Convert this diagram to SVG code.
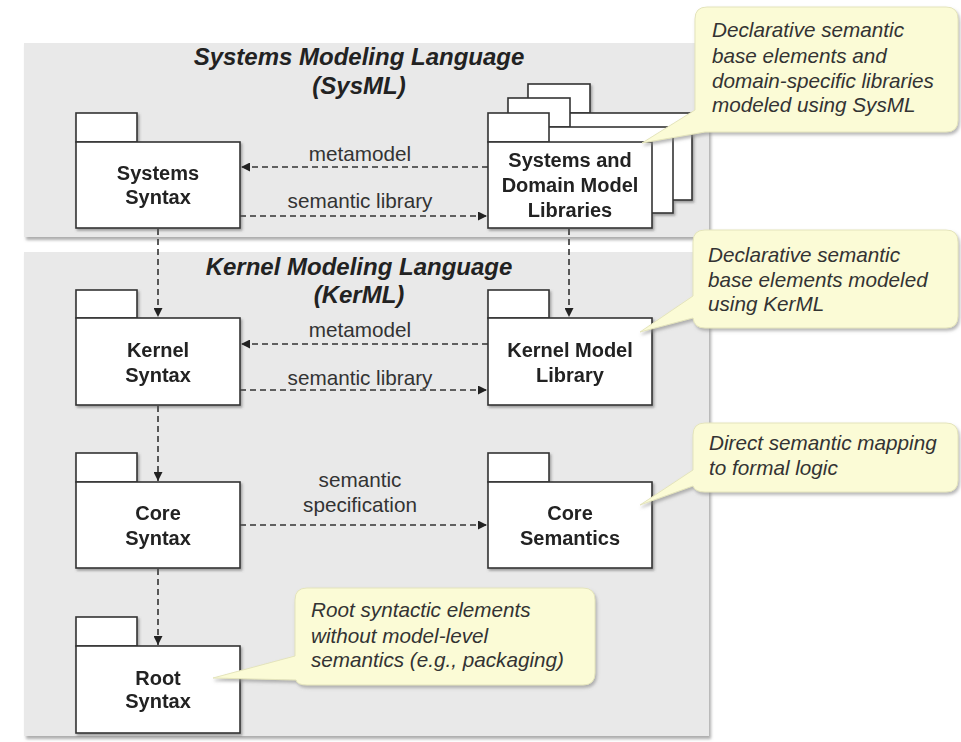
<svg xmlns="http://www.w3.org/2000/svg" width="961" height="742" viewBox="0 0 961 742">
<defs>
<filter id="psh" x="-5%" y="-5%" width="110%" height="110%"><feDropShadow dx="2" dy="3" stdDeviation="1.5" flood-color="#777" flood-opacity="0.6"/></filter>
<filter id="nsh" x="-5%" y="-5%" width="115%" height="115%"><feDropShadow dx="1.5" dy="2" stdDeviation="1" flood-color="#555" flood-opacity="0.5"/></filter>
<filter id="csh" x="-5%" y="-5%" width="115%" height="120%"><feDropShadow dx="1.5" dy="2.5" stdDeviation="1.5" flood-color="#888" flood-opacity="0.6"/></filter>
<marker id="ah" viewBox="0 0 10 10" refX="10" refY="5" markerWidth="9" markerHeight="9" markerUnits="userSpaceOnUse" orient="auto"><path d="M0,0 L10,5 L0,10 Z" fill="#222"/></marker>
</defs>
<style>
.panel{fill:#e9e9e9;filter:url(#psh)}
.box{fill:#fff;stroke:#333;stroke-width:1.6}
.title{font-family:"Liberation Sans",Arial,sans-serif;font-size:24px;font-weight:bold;font-style:italic;fill:#222;text-anchor:middle}
.nt{font-family:"Liberation Sans",Arial,sans-serif;font-size:20px;font-weight:bold;fill:#222;text-anchor:middle}
.lbl{font-family:"Liberation Sans",Arial,sans-serif;font-size:20.7px;fill:#333;text-anchor:middle}
.conn{fill:none;stroke:#333;stroke-width:1.6;stroke-dasharray:6 4;marker-end:url(#ah)}
.call{fill:#fbfbd6;stroke:#e4e4bc;stroke-width:1;filter:url(#csh)}
.ct{font-family:"Liberation Sans",Arial,sans-serif;font-size:20.7px;font-style:italic;fill:#333}
</style>
<rect width="961" height="742" fill="#fff"/>
<g id="sysml-panel">
<rect class="panel" x="24" y="43" width="685" height="194"/>
<text class="title" x="359" y="65">Systems Modeling Language</text>
<text class="title" x="359" y="94">(SysML)</text>
</g>
<g id="kerml-panel">
<rect class="panel" x="24" y="252" width="685" height="484"/>
<text class="title" x="359" y="275">Kernel Modeling Language</text>
<text class="title" x="359" y="303">(KerML)</text>
</g>
<g id="connectors">
<line class="conn" x1="488" y1="167" x2="241" y2="167"/>
<line class="conn" x1="240" y1="216" x2="487" y2="216"/>
<line class="conn" x1="158" y1="229" x2="158" y2="317"/>
<line class="conn" x1="569" y1="229" x2="569" y2="317"/>
<line class="conn" x1="488" y1="344" x2="241" y2="344"/>
<line class="conn" x1="240" y1="390" x2="487" y2="390"/>
<line class="conn" x1="158" y1="406" x2="158" y2="481"/>
<line class="conn" x1="240" y1="525" x2="487" y2="525"/>
<line class="conn" x1="158" y1="569" x2="158" y2="645"/>
<text class="lbl" x="360" y="161">metamodel</text>
<text class="lbl" x="360" y="208">semantic library</text>
<text class="lbl" x="360" y="337">metamodel</text>
<text class="lbl" x="360" y="385">semantic library</text>
<text class="lbl" x="360" y="487">semantic</text>
<text class="lbl" x="360" y="512">specification</text>
</g>
<g id="systems-syntax" filter="url(#nsh)">
<rect class="box" x="76" y="113" width="61" height="29"/>
<rect class="box" x="76" y="142" width="164" height="86"/>
<text class="nt" x="158" y="180">Systems</text>
<text class="nt" x="158" y="204">Syntax</text>
</g>
<g id="systems-domain-libraries" filter="url(#nsh)">
<rect class="box" x="528" y="84" width="62" height="29"/>
<rect class="box" x="528" y="113" width="164" height="87"/>
<rect class="box" x="508" y="98" width="62" height="29"/>
<rect class="box" x="508" y="127" width="165" height="86"/>
<rect class="box" x="488" y="113" width="61" height="29"/>
<rect class="box" x="488" y="142" width="164" height="86"/>
<text class="nt" x="570" y="167">Systems and</text>
<text class="nt" x="570" y="192">Domain Model</text>
<text class="nt" x="570" y="217">Libraries</text>
</g>
<g id="kernel-syntax" filter="url(#nsh)">
<rect class="box" x="76" y="290" width="61" height="28"/>
<rect class="box" x="76" y="318" width="164" height="87"/>
<text class="nt" x="158" y="357">Kernel</text>
<text class="nt" x="158" y="382">Syntax</text>
</g>
<g id="kernel-model-library" filter="url(#nsh)">
<rect class="box" x="488" y="290" width="61" height="28"/>
<rect class="box" x="488" y="318" width="164" height="87"/>
<text class="nt" x="570" y="357">Kernel Model</text>
<text class="nt" x="570" y="382">Library</text>
</g>
<g id="core-syntax" filter="url(#nsh)">
<rect class="box" x="76" y="453" width="61" height="29"/>
<rect class="box" x="76" y="482" width="164" height="86"/>
<text class="nt" x="158" y="520">Core</text>
<text class="nt" x="158" y="545">Syntax</text>
</g>
<g id="core-semantics" filter="url(#nsh)">
<rect class="box" x="488" y="453" width="61" height="29"/>
<rect class="box" x="488" y="482" width="164" height="86"/>
<text class="nt" x="570" y="520">Core</text>
<text class="nt" x="570" y="545">Semantics</text>
</g>
<g id="root-syntax" filter="url(#nsh)">
<rect class="box" x="76" y="617" width="61" height="29"/>
<rect class="box" x="76" y="646" width="164" height="87"/>
<text class="nt" x="158" y="685">Root</text>
<text class="nt" x="158" y="708">Syntax</text>
</g>
<g id="note-sysml">
<path class="call" d="M707,7 H946 Q958,7 958,19 V120 Q958,132 946,132 H705 L642,143 L695,110 V19 Q695,7 707,7 Z"/>
<text class="ct" x="712" y="37">Declarative semantic</text>
<text class="ct" x="712" y="63">base elements and</text>
<text class="ct" x="712" y="88">domain-specific libraries</text>
<text class="ct" x="712" y="112">modeled using SysML</text>
</g>
<g id="note-kerml">
<path class="call" d="M705,230 H946 Q958,230 958,242 V316 Q958,328 946,328 H705 Q694,328 693,318 L640,332 L693,296 V242 Q693,230 705,230 Z"/>
<text class="ct" x="708" y="262">Declarative semantic</text>
<text class="ct" x="708" y="287">base elements modeled</text>
<text class="ct" x="708" y="311">using KerML</text>
</g>
<g id="note-core">
<path class="call" d="M705,423 H946 Q958,423 958,435 V480 Q958,492 946,492 H705 Q695,492 693,486 L640,505 L693,470 V435 Q693,423 705,423 Z"/>
<text class="ct" x="709" y="450">Direct semantic mapping</text>
<text class="ct" x="709" y="475">to formal logic</text>
</g>
<g id="note-root">
<path class="call" d="M307,588 H583 Q595,588 595,600 V673 Q595,685 583,685 H307 Q297,685 296,680 L213,678 L295,656 V600 Q295,588 307,588 Z"/>
<text class="ct" x="311" y="617">Root syntactic elements</text>
<text class="ct" x="311" y="643">without model-level</text>
<text class="ct" x="311" y="667">semantics (e.g., packaging)</text>
</g>
</svg>
